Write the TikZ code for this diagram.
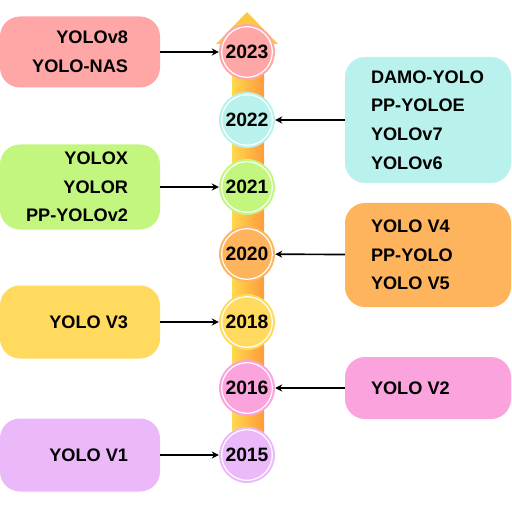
\documentclass[tikz,border=0pt]{standalone}
\usepackage{fontspec}
\setmainfont{Liberation Sans}
\usetikzlibrary{arrows.meta}

\definecolor{c23}{HTML}{FFA6A6}
\definecolor{c22}{HTML}{B9F1EC}
\definecolor{c21}{HTML}{C2F67E}
\definecolor{c20}{HTML}{FDB45C}
\definecolor{c18}{HTML}{FFDA5E}
\definecolor{c16}{HTML}{FBA3DC}
\definecolor{c15}{HTML}{EBB8FA}
\definecolor{barl}{HTML}{FFD84C}
\definecolor{barr}{HTML}{FF9A3C}
\definecolor{headc}{HTML}{FCC940}

\begin{document}
\begin{tikzpicture}[x=0.03cm,y=-0.03cm,>={Stealth[length=6pt,width=6pt]},
  box/.style={rounded corners=0.6cm,minimum width=4.8cm,inner sep=0pt},
  rbox/.style={box,minimum width=4.98cm},
  lbl/.style={inner sep=0pt,font=\fontsize{15.5}{24.5}\selectfont\bfseries},
  yearnode/.style={circle,minimum size=1.68cm,inner sep=0pt,
    font=\fontsize{16.5}{18}\selectfont\bfseries,
    path picture={\draw[white,line width=1pt] (path picture bounding box.center) circle (0.76cm);}},
  link/.style={->,line width=1.4pt}]
  \useasboundingbox (0,0) rectangle (512,512);
  % timeline
  \shade[left color=barl,right color=barr] (232,40) rectangle (264,440);
  \fill[headc] (216,44) -- (278,44) -- (247,12) -- cycle;
  \foreach \yr/\yy/\col in {2023/52/c23,2022/120/c22,2021/187/c21,2020/254/c20,
      2018/322/c18,2016/388/c16,2015/455/c15}
    \node[yearnode,fill=\col] (y\yr) at (247,\yy) {\yr};
  % left boxes
  \node[box,fill=c23,minimum height=2.13cm] (b23) at (80,52) {};
  \node[lbl,anchor=east,align=right] (t23) at ([xshift=-0.96cm]b23.east) {YOLOv8\\YOLO-NAS};
  \node[box,fill=c21,minimum height=2.55cm] (b21) at (80,187) {};
  \node[lbl,anchor=east,align=right] (t21) at ([xshift=-0.96cm]b21.east) {YOLOX\\YOLOR\\PP-YOLOv2};
  \node[box,fill=c18,minimum height=2.19cm] (b18) at (80,322) {};
  \node[lbl,anchor=east] (t18) at ([xshift=-0.96cm]b18.east) {YOLO V3};
  \node[box,fill=c15,minimum height=2.19cm] (b15) at (80,455) {};
  \node[lbl,anchor=east] (t15) at ([xshift=-0.96cm]b15.east) {YOLO V1};
  % right boxes
  \node[rbox,fill=c22,minimum height=3.78cm] (b22) at (428,120) {};
  \node[lbl,anchor=west,align=left] (t22) at ([xshift=0.78cm]b22.west) {DAMO-YOLO\\PP-YOLOE\\YOLOv7\\YOLOv6};
  \node[rbox,fill=c20,minimum height=3.12cm] (b20) at (428,255) {};
  \node[lbl,anchor=west,align=left] (t20) at ([xshift=0.78cm]b20.west) {YOLO V4\\PP-YOLO\\YOLO V5};
  \node[rbox,fill=c16,minimum height=1.86cm] (b16) at (428,388) {};
  \node[lbl,anchor=west] (t16) at ([xshift=0.78cm]b16.west) {YOLO V2};
  % connectors
  \draw[link] (b23) -- (y2023);
  \draw[link] (b21) -- (y2021);
  \draw[link] (b18) -- (y2018);
  \draw[link] (b15) -- (y2015);
  \draw[link] (b22) -- (y2022);
  \draw[link] (b20) -- (y2020);
  \draw[link] (b16) -- (y2016);
\end{tikzpicture}
\end{document}
